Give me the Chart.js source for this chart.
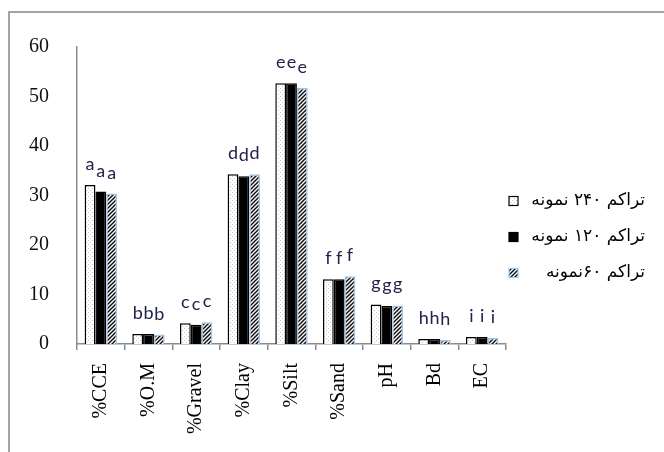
<!DOCTYPE html>
<html>
<head>
<meta charset="utf-8">
<script src="https://cdn.jsdelivr.net/npm/chart.js@4"></script>
<style>
    body { margin: 0; background: #fff; overflow: hidden; }
    #frame { position: absolute; left: 8px; top: 11px; width: 720px; height: 520px; border-left: 2px solid #a3a3a3; border-top: 2px solid #a3a3a3; }
    #soilChart { position: absolute; left: 0; top: 0; }
</style>
</head>
<body>
<div id="frame"></div>
<canvas id="soilChart" width="664" height="452"></canvas>
<script>
const categories = ['%CCE', '%O.M', '%Gravel', '%Clay', '%Silt', '%Sand', 'pH', 'Bd', 'EC'];
const seriesLabels = ['تراکم ۲۴۰ نمونه', 'تراکم ۱۲۰ نمونه', 'تراکم ۶۰نمونه'];
const values240 = [32.1, 2.0, 4.2, 34.3, 52.7, 13.1, 8.0, 1.0, 1.4];
const values120 = [30.8, 2.0, 3.9, 33.9, 52.7, 13.1, 7.7, 1.0, 1.4];
const values60 = [30.4, 1.9, 4.4, 34.3, 51.7, 13.7, 7.8, 0.8, 1.2];
const groupLetters = ['a', 'b', 'c', 'd', 'e', 'f', 'g', 'h', 'i'];
const yTicks = [0, 10, 20, 30, 40, 50, 60];

function dotPattern() {
    let c = document.createElement('canvas');
    c.width = 4; c.height = 4;
    let g = c.getContext('2d');
    g.fillStyle = '#fff';
    g.fillRect(0, 0, 4, 4);
    g.fillStyle = '#c4c4c4';
    g.fillRect(0, 0, 1, 1);
    g.fillRect(2, 2, 1, 1);
    return g.createPattern(c, 'repeat');
}

function hatchPattern() {
    let c = document.createElement('canvas');
    c.width = 4; c.height = 4;
    let g = c.getContext('2d');
    g.fillStyle = '#fff';
    g.fillRect(0, 0, 4, 4);
    g.strokeStyle = '#111';
    g.lineWidth = 1.5;
    g.beginPath();
    g.moveTo(-1, 5); g.lineTo(5, -1);
    g.moveTo(-1, 1); g.lineTo(1, -1);
    g.moveTo(3, 5); g.lineTo(5, 3);
    g.stroke();
    return g.createPattern(c, 'repeat');
}

const fills = [dotPattern(), '#000000', hatchPattern()];
const borders = ['#000000', '#000000', '#9cc6ee'];

const lettersPlugin = {
    id: 'letters',
    afterDatasetsDraw(chart) {
        const ctx = chart.ctx;
        ctx.save();
        ctx.font = '18px Lato';
        ctx.fillStyle = '#22224a';
        ctx.textAlign = 'center';
        ctx.textBaseline = 'alphabetic';
        chart.data.datasets.forEach((ds, i) => {
            chart.getDatasetMeta(i).data.forEach((bar, j) => {
                ctx.fillText(groupLetters[j], bar.x, bar.y - 15);
            });
        });
        ctx.restore();
    }
};

// legend drawn by hand so the box sits close to the plot like the original
const sideLegend = {
    id: 'sideLegend',
    afterDraw(chart) {
        const ctx = chart.ctx;
        const boxX = 509, size = 9, textRight = 645;
        const centers = [201, 237, 273];
        ctx.save();
        ctx.font = '17px "DejaVu Sans"';
        ctx.fillStyle = '#000';
        ctx.textAlign = 'right';
        ctx.textBaseline = 'middle';
        ctx.direction = 'rtl';
        chart.data.datasets.forEach((ds, i) => {
            const cy = centers[i];
            ctx.fillStyle = ds.backgroundColor;
            ctx.fillRect(boxX, cy - size / 2, size, size);
            ctx.strokeStyle = ds.borderColor;
            ctx.lineWidth = 1.2;
            ctx.strokeRect(boxX, cy - size / 2, size, size);
            ctx.fillStyle = '#000';
            ctx.fillText(ds.label, textRight, cy);
        });
        ctx.restore();
    }
};

const datasets = [values240, values120, values60].map((vals, i) => ({
    label: seriesLabels[i],
    data: vals,
    backgroundColor: fills[i],
    borderColor: borders[i],
    borderWidth: 1.5,
    borderSkipped: 'bottom',
    categoryPercentage: 0.68,
    barPercentage: 1
}));

const axisGray = '#8c8c8c';

new Chart(document.getElementById('soilChart').getContext('2d'), {
    type: 'bar',
    data: { labels: categories, datasets: datasets },
    plugins: [lettersPlugin, sideLegend],
    options: {
        responsive: false,
        animation: false,
        layout: { padding: { top: 47, right: 158, bottom: 0, left: 0 } },
        plugins: {
            legend: { display: false },
            tooltip: { enabled: false }
        },
        scales: {
            x: {
                grid: { display: true, drawOnChartArea: false, drawTicks: true, tickLength: 6, color: axisGray, lineWidth: 1.5 },
                border: { display: true, color: axisGray, width: 1.5 },
                ticks: {
                    autoSkip: false, minRotation: 90, maxRotation: 90, padding: 13,
                    color: '#000', font: { family: '"Liberation Serif"', size: 20 }
                },
                afterFit(scale) { scale.height = 108; }
            },
            y: {
                min: yTicks[0],
                max: yTicks[yTicks.length - 1],
                grid: { display: false },
                border: { display: true, color: axisGray, width: 1.5 },
                ticks: {
                    stepSize: yTicks[1] - yTicks[0], padding: 20,
                    color: '#111', font: { family: '"Liberation Serif"', size: 20 }
                },
                afterFit(scale) { scale.width = 77; }
            }
        }
    }
});
</script>
</body>
</html>
